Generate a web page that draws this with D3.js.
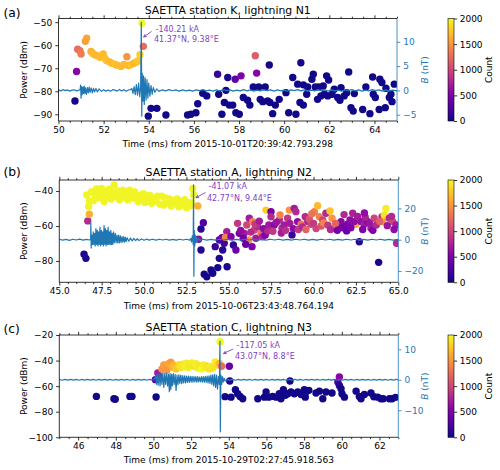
<!DOCTYPE html>
<html><head><meta charset="utf-8">
<script src="https://cdn.jsdelivr.net/npm/d3@7"></script>
<style>body{margin:0;background:#fff}svg{display:block}</style>
</head><body><svg id="chart" width="500" height="470"></svg>
<script>
// ---------------- DATA ----------------
const titles = ["SAETTA station K, lightning N1","SAETTA station A, lightning N2","SAETTA station C, lightning N3"];
const panelTags = ["(a)","(b)","(c)"];
const xLabels = ["Time (ms) from 2015-10-01T20:39:42.793.298","Time (ms) from 2015-10-06T23:43:48.764.194","Time (ms) from 2015-10-29T02:27:45.918.563"];
const annotCurrent = ["-140.21 kA","-41.07 kA","-117.05 kA"];
const annotPlace = ["41.37°N, 9.38°E","42.77°N, 9.44°E","43.07°N, 8.8°E"];

const xTicksA = [50,52,54,56,58,60,62,64];
const xTicksB = [45,47.5,50,52.5,55,57.5,60,62.5,65];
const xTicksC = [46,48,50,52,54,56,58,60,62];
const pTicksA = [-90,-80,-70,-60,-50];
const pTicksB = [-80,-60,-40];
const pTicksC = [-100,-80,-60,-40,-20];
const bTicksA = [-5,0,5,10];
const bTicksB = [-20,0,20];
const bTicksC = [-10,0,10];
const countTicks = [0,500,1000,1500,2000];

// scatter: [time ms, power dBm, count]
const scatterA = [
[50.73,-84.2,30],[50.8,-71.4,550],[50.85,-61.7,1250],[50.95,-62.4,1300],[51.0,-63.8,1350],[51.19,-58.3,1550],[51.25,-56.9,1600],
[51.44,-62.7,1650],[51.52,-63.6,1700],[51.62,-64.2,1700],[51.72,-64.6,1700],[51.84,-65.2,1700],[51.98,-63.8,1700],[52.05,-65.6,1700],
[52.12,-66.6,1750],[52.25,-67.2,1700],[52.38,-67.9,1700],[52.5,-68.3,1750],[52.6,-68.7,1700],[52.77,-69.2,1700],[52.9,-68.4,1700],
[53.03,-65.0,1500],[53.1,-68.8,1700],[53.22,-68.4,1750],[53.35,-67.8,1700],[53.45,-67.3,1700],[53.52,-66.8,1750],[53.61,-64.1,1800],
[53.70,-50.4,2000],[53.76,-60.5,1250],
[53.98,-90.8,20],[54.10,-87.4,20],[54.36,-87.4,20],[54.76,-90.3,20],[55.72,-90.3,20],[55.87,-90.0,20],[56.09,-89.3,20],[56.17,-85.4,20],
[56.39,-80.9,20],[56.57,-82.0,20],[57.05,-72.6,150],[57.1,-81.3,20],[57.24,-90.0,20],[57.35,-84.9,20],[57.42,-79.6,20],
[57.50,-74.0,50],[57.83,-74.8,350],[58.09,-73.3,500],[58.72,-64.6,1150],[58.78,-72.1,550],[59.34,-68.6,30],[60.74,-67.6,30],
[57.57,-86.0,20],[57.72,-86.0,20],[57.86,-89.3,20],[58.01,-90.0,20],[58.19,-82.7,20],[58.38,-83.9,20],[58.48,-86.0,20],[58.63,-78.1,20],
[58.87,-78.1,20],[59.16,-78.1,20],[58.94,-83.5,20],[59.05,-84.5,20],[59.27,-84.2,20],[59.37,-84.9,20],[59.61,-86.0,20],[59.49,-89.7,20],
[59.78,-83.5,20],[60.08,-80.6,20],[60.20,-89.3,20],[60.38,-74.0,20],[60.52,-90.0,20],[60.60,-76.9,20],[60.70,-84.9,20],[60.85,-86.0,20],
[60.85,-77.2,20],[61.04,-78.1,20],[61.23,-74.8,20],[61.29,-72.6,20],[61.38,-78.1,20],[61.0,-81.3,20],[61.53,-78.1,20],[61.73,-77.7,20],
[61.48,-83.5,20],[61.63,-82.0,20],[61.78,-81.3,20],[61.93,-82.0,20],[62.12,-81.3,20],[61.88,-73.3,20],[61.97,-75.1,20],[62.22,-79.1,20],
[62.52,-78.4,20],[62.37,-82.7,20],[62.47,-83.9,20],[62.66,-82.0,20],[62.77,-80.6,20],[62.86,-71.6,20],[62.96,-87.1,20],[63.06,-88.6,20],
[63.11,-81.0,20],[63.48,-87.9,20],[63.62,-78.1,20],[63.80,-89.7,20],[63.92,-73.8,20],[63.95,-81.3,20],[64.04,-82.7,20],[64.24,-74.8,20],
[64.33,-76.2,20],[64.21,-87.9,20],[64.51,-78.7,20],[64.48,-87.1,20],[64.66,-82.7,20],[64.78,-84.5,20],[64.88,-76.9,20],[64.73,-81.3,20]
];
const scatterB = [
[46.46,-76.2,40],[46.57,-78.5,40],[46.68,-57.1,800],[46.77,-53.3,1650],
[46.62,-42.3,1980],[46.73,-49.0,1980],[46.78,-45.7,1980],[46.91,-40.4,1980],[47.0,-45.5,1980],[47.1,-42,1980],[47.2,-38.8,1980],[47.3,-44,1980],
[47.38,-41.5,1980],[47.5,-38.5,1980],[47.55,-43,1980],[47.65,-46,1980],[47.75,-40.5,1980],[47.85,-42.5,1980],[47.95,-39,1980],[48.05,-44.5,1980],
[48.15,-41,1980],[48.24,-36.6,1980],[48.35,-43,1980],[48.45,-40,1980],[48.55,-45,1980],[48.65,-41.5,1980],[48.75,-39.5,1980],[48.85,-43.5,1980],
[48.95,-41,1980],[49.05,-45,1980],[49.15,-39.5,1980],[49.25,-42,1980],[49.35,-44,1980],[49.45,-40.5,1980],[49.55,-43,1980],[49.65,-46,1980],
[49.75,-42.5,1980],[49.85,-44.5,1980],[49.95,-41.5,1980],[50.05,-46.5,1980],[50.15,-43,1980],[50.25,-45,1980],[50.35,-42.5,1980],[50.45,-47,1980],
[50.55,-44.5,1980],[50.7,-46,1980],[50.8,-43,1980],[50.95,-47.5,1980],[51.04,-42.9,1980],[51.15,-48,1980],[51.25,-44,1980],[51.4,-46.5,1980],
[51.5,-44.5,1980],[51.6,-48.5,1980],[51.7,-45.5,1980],[51.85,-47,1980],[51.95,-44.5,1980],[52.05,-49,1980],[52.15,-46,1980],[52.3,-48,1980],
[52.4,-45,1980],[52.5,-49.5,1980],[52.6,-47,1980],[52.7,-48.5,1980],[52.8,-46.5,1980],[52.87,-38.5,1980],[52.93,-42.3,1980],[53.17,-48.6,1650],
[53.22,-67.6,600],[53.36,-61.7,100],[53.5,-58.1,250],[53.36,-73.7,80],[53.55,-87.6,30],[53.7,-89.0,30],[53.95,-85.1,30],[54.05,-87.0,30],
[54.35,-83.8,30],[54.44,-78.5,40],[54.2,-71.8,150],[54.44,-68.0,300],[54.6,-66.7,400],[54.73,-69.9,200],[54.88,-63.3,700],[54.64,-73.7,100],
[54.8,-66.5,1400],[54.9,-83.3,40],[55.13,-66.1,500],[55.27,-70.9,150],[55.42,-73.7,400],[55.62,-64.2,450],[55.52,-58.5,900],[56.06,-59.4,1000],
[55.91,-64.2,700],[56.21,-55.6,700],[56.18,-68.0,1500],[56.41,-57.5,1400],[56.5,-62.3,1000],[56.6,-67.0,700],[56.37,-71.8,500],[56.7,-60.4,800],
[56.9,-64.2,1300],[57.0,-66.1,700],[57.19,-50.9,1800],[57.49,-51.8,450],[57.49,-54.7,800],[57.36,-59.4,700],[57.15,-65.1,500],[57.68,-59.4,550],
[57.98,-56.6,800],[58.02,-53.7,1400],[58.14,-61.3,800],[58.27,-59.4,700],[58.47,-55.6,900],[58.57,-50.9,1500],[58.73,-65.1,150],[58.86,-49.9,700],
[58.96,-51.8,800],[59.06,-57.5,600],[59.26,-59.0,1300],[59.51,-54.7,800],[59.66,-57.5,750],[59.85,-59.0,1000],[60.05,-51.8,1400],[60.24,-48.4,1700],
[60.34,-54.7,1400],[60.54,-56.6,1000],[60.73,-52.7,800],[60.97,-51.4,1750],[61.09,-55.6,1500],[61.22,-61.3,1500],[61.52,-60.4,500],[61.62,-57.5,550],
[61.7,-61.0,500],[61.85,-60.5,450],[62.01,-59.0,500],[62.15,-56.6,600],[62.31,-52.7,750],[62.5,-59.0,1600],[62.7,-69.0,100],[62.8,-57.5,600],
[62.99,-59.0,700],[63.19,-57.5,500],[63.39,-61.3,700],[63.58,-55.6,1000],[63.84,-80.8,30],[64.04,-54.7,800],[64.08,-57.5,1500],[64.17,-53.7,1900],
[64.27,-49.9,1950],[64.47,-55.6,800],[64.67,-57.5,1000],[64.86,-59.4,700],[64.9,-69.9,800],
[55.7,-62.5,600],[55.85,-67,450],[56.0,-70.5,400],[56.3,-63.5,800],[56.55,-59,900],[56.8,-57.2,700],[57.05,-61.5,600],[57.3,-62.8,800],
[57.6,-63,900],[57.8,-58,650],[58.1,-64,700],[58.35,-62.5,850],[58.6,-58.5,700],[58.8,-61.5,600],[59.1,-62,900],[59.35,-60.5,800],
[59.55,-62,1200],[59.75,-56,1100],[60.0,-58.5,900],[60.15,-61.5,1000],[60.45,-60,1100],[60.6,-58.3,1400],[60.85,-59.5,900],[61.0,-62,800],
[61.3,-58.5,1200],[61.4,-62.5,450],[61.95,-62.8,400],[62.2,-61,500],[62.4,-57.5,600],[62.6,-54.5,700],[62.9,-62,500],[63.05,-55,750],
[63.3,-58.5,650],[63.5,-62.5,500],[63.7,-59.5,800],[63.9,-57.5,1200],[64.35,-59.8,650],[64.6,-54.5,800],[64.75,-62,600],[63.0,-52.5,600],
[61.8,-53.5,800],[59.9,-53,1300]
];
const scatterC = [
[46.97,-68.0,20],[47.9,-69.9,20],[47.97,-70.2,20],[48.75,-68.0,20],[48.86,-68.0,20],[50.14,-68.5,20],
[50.1,-54.9,400],[50.23,-49.7,700],[50.3,-52.6,600],[50.45,-46.5,1500],[50.55,-43.5,1550],[50.7,-47.5,1500],[50.8,-42.5,1600],
[50.92,-41.2,1550],[51.0,-45,1650],[51.1,-43.8,1700],[51.2,-46.5,1750],[51.35,-43.5,1850],[51.45,-45.5,1900],[51.55,-42.8,1900],
[51.65,-44.8,1950],[51.75,-42,1950],[51.85,-45.5,1950],[51.95,-43.5,1900],[52.05,-41.8,1950],[52.15,-44.5,1900],[52.25,-42.5,1950],
[52.35,-45.8,1950],[52.45,-44,1900],[52.55,-46.5,2000],[52.65,-43.5,1950],[52.75,-45.5,1950],[52.85,-44.2,1900],[52.95,-46.5,1900],
[53.05,-44.5,1950],[53.15,-45.8,1900],[53.28,-41,1950],[53.4,-43.5,1850],[53.5,-42.3,1700],[53.62,-44.4,1250],[53.54,-25.3,2000],
[54.03,-44.4,400],[54.05,-56,60],[53.8,-68.2,20],[54.12,-68.6,20],[54.35,-62.8,20],[54.47,-65.9,20],[54.6,-68.0,20],[54.74,-69.9,20],
[55.54,-69.9,20],[55.89,-68.6,20],[55.98,-64.6,20],[56.12,-68.6,20],[56.33,-68.0,20],[56.51,-68.6,20],[56.68,-65.9,20],[56.77,-69.9,20],
[56.9,-62.8,20],[57.0,-67.2,20],[57.25,-56.0,20],[57.13,-65.9,20],[57.3,-64.6,20],[57.48,-65.9,20],[57.66,-64.6,20],[57.84,-66.5,20],
[58.01,-62.8,20],[58.1,-64.6,20],[58.06,-68.6,20],[58.25,-63.3,20],[58.63,-65.4,20],[58.81,-63.9,20],[58.99,-69.9,20],[59.16,-64.6,20],
[59.48,-65.4,20],[59.79,-56.8,300],[59.87,-52.8,550],[59.87,-59.4,100],[59.96,-62.0,20],[60.01,-65.9,20],[60.14,-68.6,20],[60.76,-63.9,20],
[60.93,-68.0,20],[61.02,-69.9,20],[61.2,-66.5,20],[61.55,-65.4,20],[61.7,-68.3,20],[61.91,-68.6,20],[62.08,-69.9,20],[62.2,-69.9,20],
[62.53,-69.9,20],[62.67,-69.9,20],[62.85,-68.8,20]
];

// magnetic field signal: [time ms, B nT]
const signalA = [
[50.0,0.1],[50.1,-0.1],[50.2,0.15],[50.3,-0.05],[50.4,0.1],[50.5,-0.15],[50.6,0.05],[50.7,0.12],[50.8,-0.1],[50.9,0.05],
[50.96,0.2],[50.98,1.1],[51.0,-1.6],[51.02,0.8],[51.05,-0.9],[51.08,0.7],[51.11,-0.6],[51.14,0.9],[51.17,-0.7],[51.2,0.5],[51.24,-0.8],
[51.28,0.6],[51.32,-0.5],[51.36,0.7],[51.4,-0.4],[51.45,0.5],[51.5,-0.5],[51.55,0.4],[51.6,-0.3],[51.66,0.4],[51.72,-0.3],[51.8,0.3],[51.9,-0.2],
[52.0,0.15],[52.1,-0.15],[52.2,0.1],[52.3,-0.2],[52.4,0.15],[52.5,0.05],[52.6,-0.15],[52.7,0.2],[52.8,-0.1],[52.9,0.15],[53.0,-0.2],[53.1,0.1],[53.2,0.15],
[53.25,0.4],[53.3,-0.6],[53.35,0.8],[53.4,-0.9],[53.45,1.2],[53.5,-1.0],[53.55,1.5],[53.6,-1.3],[53.64,0.6],
[53.67,14.0],[53.69,-5.3],[53.71,3.5],[53.74,-2.2],[53.77,3.0],[53.8,-2.9],[53.84,2.6],[53.88,-2.0],[53.92,2.2],[53.96,-1.6],[54.0,1.5],
[54.05,-1.2],[54.1,1.0],[54.15,-0.8],[54.2,0.6],[54.27,-0.4],[54.35,0.3],[54.45,-0.2],
[54.6,0.12],[54.75,-0.1],[54.9,0.15],[55.05,-0.08],[55.2,0.1],[55.35,-0.15],[55.5,0.1],[55.65,-0.1],[55.8,0.06],[55.95,-0.15],[56.1,0.1],[56.25,-0.06],
[56.4,0.15],[56.55,-0.1],[56.7,0.06],[56.85,-0.15],[57.0,0.1],[57.15,-0.1],[57.3,0.15],[57.45,-0.06],[57.6,0.1],[57.75,-0.15],[57.9,0.06],[58.05,-0.1],
[58.2,0.15],[58.35,-0.1],[58.5,0.1],[58.65,-0.15],[58.8,0.06],[58.95,-0.1],[59.1,0.15],[59.25,-0.06],[59.4,0.1],[59.55,-0.15],[59.7,0.1],[59.85,-0.1],
[60.0,0.06],[60.15,-0.15],[60.3,0.1],[60.45,-0.06],[60.6,0.15],[60.75,-0.1],[60.9,0.1],[61.05,-0.15],[61.2,0.06],[61.35,-0.1],[61.5,0.15],[61.65,-0.06],
[61.8,0.1],[61.95,-0.15],[62.1,0.1],[62.25,-0.1],[62.4,0.06],[62.55,-0.15],[62.7,0.1],[62.85,-0.06],[63.0,0.15],[63.15,-0.1],[63.3,0.1],[63.45,-0.15],
[63.6,0.06],[63.75,-0.1],[63.9,0.15],[64.05,-0.06],[64.2,0.1],[64.35,-0.15],[64.5,0.1],[64.65,-0.1],[64.8,0.06],[65.0,-0.1]
];
const signalB = [
[45.0,0.3],[45.2,-0.3],[45.4,0.2],[45.6,-0.4],[45.8,0.3],[46.0,-0.2],[46.2,0.4],[46.4,-0.3],[46.6,0.2],[46.8,-0.2],
[46.85,0.5],[46.86,10.7],[46.88,-5.3],[46.92,3],[46.96,-3],[47.0,5],[47.04,-3],[47.08,4],[47.12,-4],[47.16,7],[47.2,-3],[47.24,6],[47.28,-4],
[47.32,5],[47.36,-3],[47.4,8],[47.44,-4],[47.48,6],[47.52,-3],[47.56,5],[47.6,-4],[47.64,9],[47.68,-3],[47.72,7],[47.76,-4],[47.8,6],[47.84,-3],
[47.88,8],[47.92,-3],[47.96,5],[48.0,-3],[48.04,6],[48.08,-3],[48.12,4],[48.16,-3],[48.2,5],[48.25,-2],[48.3,4],[48.35,-2],[48.4,3],[48.45,-2],
[48.5,3],[48.55,-2],[48.6,2.5],[48.65,-1.8],[48.7,2],[48.75,-1.5],[48.8,2],[48.85,-1.5],[48.9,1.5],[48.95,-1.2],[49.0,1.2],[49.1,-1],[49.2,1],
[49.3,-0.8],[49.4,0.8],[49.5,-0.6],[49.6,0.6],[49.7,-0.5],[49.85,0.5],[50.0,-0.4],[50.15,0.4],[50.3,-0.3],[50.5,0.3],
[50.7,-0.3],[50.9,0.3],[51.1,-0.2],[51.3,0.3],[51.5,-0.3],[51.7,0.2],[51.9,-0.3],[52.1,0.3],[52.3,-0.2],[52.5,0.3],[52.7,-0.3],
[52.75,0.8],[52.8,-1.5],[52.85,2.5],[52.9,-3],[52.92,35],[52.94,-23.4],[52.96,6],[52.99,-4],[53.02,3],[53.06,-2],[53.1,1.5],[53.15,-1],[53.2,0.8],[53.3,-0.5],
[53.45,0.3],[53.7,-0.3],[53.95,0.2],[54.2,-0.3],[54.45,0.3],[54.7,-0.2],[54.95,0.3],[55.2,-0.3],[55.45,0.2],[55.7,-0.3],[55.95,0.3],[56.2,-0.2],
[56.45,0.3],[56.7,-0.3],[56.95,0.2],[57.2,-0.3],[57.45,0.3],[57.7,-0.2],[57.95,0.3],[58.2,-0.3],[58.45,0.2],[58.7,-0.3],[58.95,0.3],[59.2,-0.2],
[59.45,0.3],[59.7,-0.3],[59.95,0.2],[60.2,-0.3],[60.45,0.3],[60.7,-0.2],[60.95,0.3],[61.2,-0.3],[61.45,0.2],[61.7,-0.3],[61.95,0.3],[62.2,-0.2],
[62.45,0.3],[62.7,-0.3],[62.95,0.2],[63.2,-0.3],[63.45,0.3],[63.7,-0.2],[63.95,0.3],[64.2,-0.3],[64.45,0.2],[64.7,-0.3],[65.0,0.2]
];
const signalC = [
[45.0,0.1],[45.15,-0.15],[45.3,0.1],[45.45,-0.1],[45.6,0.15],[45.75,-0.1],[45.9,0.1],[46.05,-0.15],[46.2,0.1],[46.35,-0.1],[46.5,0.15],[46.65,-0.1],
[46.8,0.1],[46.95,-0.15],[47.1,0.1],[47.25,-0.1],[47.4,0.15],[47.55,-0.1],[47.7,0.1],[47.85,-0.15],[48.0,0.1],[48.15,-0.1],[48.3,0.15],[48.45,-0.1],
[48.6,0.1],[48.75,-0.15],[48.9,0.1],[49.05,-0.1],[49.2,0.15],[49.35,-0.1],[49.5,0.1],[49.65,-0.15],[49.8,0.1],[49.95,-0.1],[50.05,0.15],
[50.12,1.5],[50.16,-1.5],[50.2,2.0],[50.25,-1.8],[50.3,2.2],[50.35,-2.0],[50.4,2.0],[50.45,-1.5],[50.5,2.3],[50.55,-2.5],[50.6,2.0],[50.65,-1.5],
[50.7,2.2],[50.75,-2.0],[50.8,1.8],[50.84,-3.9],[50.88,2.0],[50.92,-3.3],[50.96,1.8],[51.0,-2.0],[51.05,2.0],[51.1,-1.5],[51.15,1.8],[51.2,-3.5],
[51.25,1.5],[51.3,-1.6],[51.35,1.6],[51.4,-1.2],[51.45,1.5],[51.5,-1.3],[51.55,1.4],[51.6,-1.0],[51.65,1.3],[51.7,-1.0],[51.75,1.2],[51.8,-0.9],
[51.85,1.2],[51.9,-0.9],[51.95,1.1],[52.0,-0.8],[52.05,1.1],[52.1,-0.8],[52.15,1.0],[52.2,-0.7],[52.25,1.0],[52.3,-0.8],[52.35,1.0],[52.4,-0.7],
[52.45,0.9],[52.5,-0.7],[52.55,1.0],[52.6,-0.8],[52.65,1.0],[52.7,-0.8],[52.75,1.1],[52.8,-0.9],[52.85,1.2],[52.9,-1.0],[52.95,1.3],[53.0,-1.2],
[53.05,1.5],[53.1,-1.5],[53.15,1.6],[53.2,-2.0],[53.25,1.8],[53.3,-2.5],[53.35,1.5],[53.4,-3.0],[53.45,1.0],[53.5,-1.5],
[53.53,12.6],[53.55,-17.1],[53.58,1.5],[53.62,-1.5],[53.66,1.0],[53.7,-0.8],[53.75,0.5],[53.8,-0.4],
[53.9,0.15],[54.05,-0.1],[54.2,0.1],[54.35,-0.15],[54.5,0.1],[54.65,-0.1],[54.8,0.15],[54.95,-0.1],[55.1,0.1],[55.25,-0.15],[55.4,0.1],[55.55,-0.1],
[55.7,0.15],[55.85,-0.1],[56.0,0.1],[56.15,-0.15],[56.3,0.1],[56.45,-0.1],[56.6,0.15],[56.75,-0.1],[56.9,0.1],[57.05,-0.15],[57.2,0.1],[57.35,-0.1],
[57.5,0.15],[57.65,-0.1],[57.8,0.1],[57.95,-0.15],[58.1,0.1],[58.25,-0.1],[58.4,0.15],[58.55,-0.1],[58.7,0.1],[58.85,-0.15],[59.0,0.1],[59.15,-0.1],
[59.3,0.15],[59.45,-0.1],[59.6,0.1],[59.75,-0.15],[59.9,0.1],[60.05,-0.1],[60.2,0.15],[60.35,-0.1],[60.5,0.1],[60.65,-0.15],[60.8,0.1],[60.95,-0.1],
[61.1,0.15],[61.25,-0.1],[61.4,0.1],[61.55,-0.15],[61.7,0.1],[61.85,-0.1],[62.0,0.15],[62.15,-0.1],[62.3,0.1],[62.45,-0.15],[62.6,0.1],[62.75,-0.1],[62.9,0.15],[63.0,-0.1]
];

// ---------------- LAYOUT ----------------
const panels = [
 {id:"a", box:{l:58.5,r:397,t:18.5,b:121}, xDomain:[50,65], pDomain:[-92.9,-48.4], bDomain:[-6.3,14.8],
  xTicks:xTicksA, xFmt:d3.format("d"), pTicks:pTicksA, bTicks:bTicksA, scatter:scatterA, signal:signalA,
  titleY:14, tagY:16.5, xlabelY:146.8, annX:155.5, annY1:31.5, annY2:42, arrow:[[151.5,31.5],[143.6,37]]},
 {id:"b", box:{l:59.3,r:398.3,t:180,b:282.3}, xDomain:[45,65], pDomain:[-92.2,-33.7], bDomain:[-27.2,38.1],
  xTicks:xTicksB, xFmt:d3.format(".1f"), pTicks:pTicksB, bTicks:bTicksB, scatter:scatterB, signal:signalB,
  titleY:176, tagY:176, xlabelY:308.5, annX:208.5, annY1:189, annY2:200.5, arrow:[[205.5,192.5],[196,197.7]]},
 {id:"c", box:{l:59.3,r:398.3,t:335,b:437.3}, xDomain:[45,63], pDomain:[-100,-20], bDomain:[-18.9,14.7],
  xTicks:xTicksC, xFmt:d3.format("d"), pTicks:pTicksC, bTicks:bTicksC, scatter:scatterC, signal:signalC,
  titleY:330.7, tagY:332.7, xlabelY:463, annX:236.5, annY1:347.5, annY2:359, arrow:[[233,349],[223.5,353.5]]}
];

const FONT = '"DejaVu Sans", sans-serif';
const BLUE = "#1f77b4";
const ANN = "#7f3fc2";
const svg = d3.select("#chart");
const cmap = d3.scaleSequential(d3.interpolatePlasma).domain([0,2000]);
const minusFmt = d => (d < 0 ? "\u2212" : "") + Math.abs(d);

const defs = svg.append("defs");
const grad = defs.append("linearGradient").attr("id","plasmaGrad").attr("x1",0).attr("y1",1).attr("x2",0).attr("y2",0);
d3.range(0,1.0001,0.05).forEach(s => grad.append("stop").attr("offset",s).attr("stop-color",d3.interpolatePlasma(s)));

function styleAxis(g, color){
  g.attr("font-family",FONT).attr("font-size",9);
  g.select(".domain").remove();
  g.selectAll(".tick line").attr("stroke",color).attr("stroke-width",0.8);
  g.selectAll(".tick text").attr("fill",color);
}

panels.forEach((p,i) => {
  const {box} = p;
  const x = d3.scaleLinear().domain(p.xDomain).range([box.l,box.r]);
  const yP = d3.scaleLinear().domain(p.pDomain).range([box.b,box.t]);
  const yB = d3.scaleLinear().domain(p.bDomain).range([box.b,box.t]);
  const clip = "clip-"+p.id;
  defs.append("clipPath").attr("id",clip).append("rect")
    .attr("x",box.l).attr("y",box.t).attr("width",box.r-box.l).attr("height",box.b-box.t);

  const g = svg.append("g");
  g.append("g").attr("clip-path",`url(#${clip})`).selectAll("circle").data(p.scatter).join("circle")
    .attr("cx",d=>x(d[0])).attr("cy",d=>yP(d[1])).attr("r",3.7).attr("fill",d=>cmap(d[2]));
  g.append("path").attr("clip-path",`url(#${clip})`).datum(p.signal)
    .attr("d",d3.line().x(d=>x(d[0])).y(d=>yB(d[1])))
    .attr("fill","none").attr("stroke",BLUE).attr("stroke-width",1.2).attr("stroke-linejoin","round");

  // minor ticks
  const [x0,x1] = p.xDomain;
  const minor = d3.range(Math.ceil(x0*2)/2, x1+0.001, 0.5).filter(v => !p.xTicks.some(t => Math.abs(t-v)<1e-6));
  const mb = g.append("g").attr("transform",`translate(0,${box.b})`).call(d3.axisBottom(x).tickValues(minor).tickFormat("").tickSize(1.8).tickSizeOuter(0));
  styleAxis(mb,"#000");
  const mt = g.append("g").attr("transform",`translate(0,${box.t})`).call(d3.axisTop(x).tickValues(minor).tickFormat("").tickSize(1.8).tickSizeOuter(0));
  styleAxis(mt,"#000");
  const xb = g.append("g").attr("transform",`translate(0,${box.b})`).call(d3.axisBottom(x).tickValues(p.xTicks).tickFormat(p.xFmt).tickSize(3.2).tickPadding(2.2).tickSizeOuter(0));
  styleAxis(xb,"#000");
  const xt = g.append("g").attr("transform",`translate(0,${box.t})`).call(d3.axisTop(x).tickValues(p.xTicks).tickFormat("").tickSize(3.2).tickSizeOuter(0));
  styleAxis(xt,"#000");
  const yl = g.append("g").attr("transform",`translate(${box.l},0)`).call(d3.axisLeft(yP).tickValues(p.pTicks).tickFormat(minusFmt).tickSize(3.2).tickPadding(3).tickSizeOuter(0));
  styleAxis(yl,"#000");
  const yr = g.append("g").attr("transform",`translate(${box.r},0)`).call(d3.axisRight(yB).tickValues(p.bTicks).tickFormat(minusFmt).tickSize(3.2).tickPadding(3).tickSizeOuter(0));
  styleAxis(yr,BLUE);

  // spines
  const sp = g.append("g").attr("stroke-width",0.8).attr("fill","none");
  sp.append("line").attr("x1",box.l).attr("x2",box.r).attr("y1",box.t).attr("y2",box.t).attr("stroke","#000");
  sp.append("line").attr("x1",box.l).attr("x2",box.r).attr("y1",box.b).attr("y2",box.b).attr("stroke","#000");
  sp.append("line").attr("x1",box.l).attr("x2",box.l).attr("y1",box.t).attr("y2",box.b).attr("stroke","#000");
  sp.append("line").attr("x1",box.r).attr("x2",box.r).attr("y1",box.t).attr("y2",box.b).attr("stroke",BLUE);

  // texts
  const cx = (box.l+box.r)/2, cy = (box.t+box.b)/2;
  g.append("text").attr("x",cx).attr("y",p.titleY).attr("text-anchor","middle").attr("font-family",FONT).attr("font-size",10.9).text(titles[i]);
  g.append("text").attr("x",3.5).attr("y",p.tagY).attr("font-family",FONT).attr("font-size",12.3).text(panelTags[i]);
  g.append("text").attr("x",cx).attr("y",p.xlabelY).attr("text-anchor","middle").attr("font-family",FONT).attr("font-size",9).text(xLabels[i]);
  g.append("text").attr("transform",`translate(27,${cy}) rotate(-90)`).attr("text-anchor","middle").attr("font-family",FONT).attr("font-size",9).text("Power (dBm)");
  const bl = g.append("text").attr("transform",`translate(427.5,${cy}) rotate(-90)`).attr("text-anchor","middle").attr("font-family",FONT).attr("font-size",9).attr("fill",BLUE);
  bl.append("tspan").attr("font-style","italic").text("B");
  bl.append("tspan").text(" (nT)");

  // annotation
  g.append("text").attr("x",p.annX).attr("y",p.annY1).attr("font-family",FONT).attr("font-size",8).attr("fill",ANN).text(annotCurrent[i]);
  g.append("text").attr("x",p.annX-1.5).attr("y",p.annY2).attr("font-family",FONT).attr("font-size",8).attr("fill",ANN).text(annotPlace[i]);
  const [a0,a1] = p.arrow;
  const ang = Math.atan2(a1[1]-a0[1], a1[0]-a0[0]);
  const hl = 3.2;
  g.append("path").attr("fill","none").attr("stroke",ANN).attr("stroke-width",0.9)
    .attr("d",`M${a0[0]},${a0[1]}L${a1[0]},${a1[1]}`+
      `M${a1[0]-hl*Math.cos(ang-0.45)},${a1[1]-hl*Math.sin(ang-0.45)}L${a1[0]},${a1[1]}L${a1[0]-hl*Math.cos(ang+0.45)},${a1[1]-hl*Math.sin(ang+0.45)}`);

  // colorbar
  const cbL = 448, cbW = 6;
  const cs = d3.scaleLinear().domain([0,2000]).range([box.b,box.t]);
  g.append("rect").attr("x",cbL).attr("y",box.t).attr("width",cbW).attr("height",box.b-box.t).attr("fill","url(#plasmaGrad)").attr("stroke","#000").attr("stroke-width",0.6);
  const cax = g.append("g").attr("transform",`translate(${cbL+cbW},0)`).call(d3.axisRight(cs).tickValues(countTicks).tickFormat(d3.format("d")).tickSize(3.2).tickPadding(2.5).tickSizeOuter(0));
  styleAxis(cax,"#000");
  g.append("text").attr("transform",`translate(491.5,${cy}) rotate(-90)`).attr("text-anchor","middle").attr("font-family",FONT).attr("font-size",9).text("Count");
});
</script></body></html>
